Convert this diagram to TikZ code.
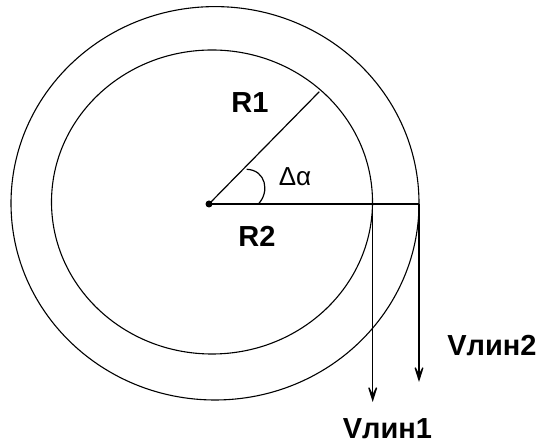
\documentclass[tikz,border=0pt]{standalone}
\usepackage{fontspec}
\setmainfont{Liberation Sans}
\usetikzlibrary{arrows.meta}
\tikzset{
  ring/.style={line width=1.1pt},
  rad/.style={line width=1.2pt},
  vel/.style={-{Stealth[length=22pt,width=14pt,inset=14pt]},line width=1.3pt},
  lbl/.style={font=\fontsize{29}{34}\selectfont\bfseries,inner sep=0pt,anchor=base},
  anglbl/.style={font=\fontsize{26}{30}\selectfont,inner sep=0pt,anchor=base},
  ctr/.style={circle,fill=black,inner sep=0pt,minimum size=7pt},
}
\begin{document}
\begin{tikzpicture}[x=1pt,y=1pt]
  \useasboundingbox (0,0) rectangle (540,446);
  % the two rings
  \draw[ring] (212,244) ellipse [x radius=160.5,y radius=152];
  \draw[ring] (215,242.7) ellipse [x radius=204,y radius=196.7];
  \node[ctr] (o) at (209,242) {};
  \coordinate (r1) at (319.3,354.3);
  \coordinate (p1) at (372.7,242);
  \coordinate (p2) at (419,242);
  \coordinate (v1) at (372.7,44);
  \coordinate (v2) at (419,64);
  \draw[rad] (o.center) -- (r1);
  \draw[rad] (o.center) -- (p2);
  \draw[rad] (258.3,242) .. controls (270,254) and (266,276) .. (246.7,276.7);
  % velocities
  \draw[vel] (p1) -- (v1);
  \draw[vel] (p2) -- (v2);
  \node[lbl] (lr1) at (250,333) {R1};
  \node[lbl] (lr2) at (257,199) {R2};
  \node[anglbl] (lda) at (295,260) {Δα};
  \node[lbl] (lv2) at (492,90) {Vлин2};
  \node[lbl] (lv1) at (387.5,7) {Vлин1};
\end{tikzpicture}
\end{document}
